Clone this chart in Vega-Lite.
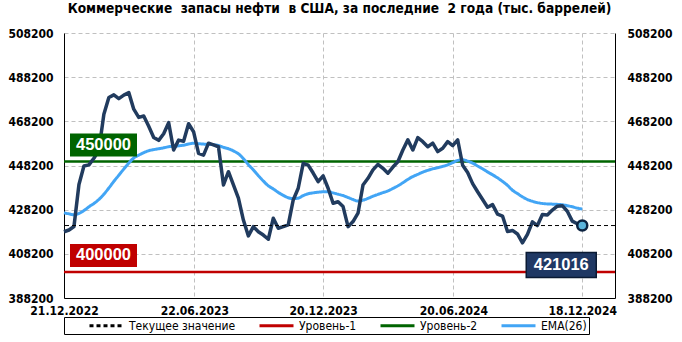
{
"$schema": "https://vega.github.io/schema/vega-lite/v6.json",
"width": 551, "height": 265,
"autosize": {"type": "none"},
"padding": {"left": 64, "top": 33, "right": 67, "bottom": 44},
"background": "white",
"title": {"text": "Коммерческие \u00a0запасы нефти \u00a0в США, за последние \u00a02 года (тыс. баррелей)", "fontSize": 13.6, "fontWeight": "bold", "font": "DejaVu Sans Condensed", "anchor": "middle", "offset": 11, "color": "black"},
"datasets": {
"w": [
{"d":"2022-12-21","v":418200,"ema":426800},{"d":"2022-12-28","v":419000,"ema":426300},{"d":"2023-01-04","v":420600,"ema":425900},{"d":"2023-01-11","v":439600,"ema":426500},{"d":"2023-01-18","v":448000,"ema":427800},{"d":"2023-01-25","v":448500,"ema":429500},{"d":"2023-02-01","v":451500,"ema":431000},{"d":"2023-02-08","v":455100,"ema":432800},{"d":"2023-02-15","v":471400,"ema":435200},{"d":"2023-02-22","v":479000,"ema":438000},
{"d":"2023-03-01","v":480200,"ema":441000},{"d":"2023-03-08","v":478500,"ema":443800},{"d":"2023-03-15","v":480100,"ema":446600},{"d":"2023-03-22","v":481200,"ema":449300},{"d":"2023-03-29","v":473700,"ema":451600},{"d":"2023-04-05","v":470000,"ema":452900},{"d":"2023-04-12","v":470600,"ema":454000},{"d":"2023-04-19","v":466000,"ema":454900},{"d":"2023-04-26","v":460900,"ema":455400},{"d":"2023-05-03","v":459600,"ema":455800},
{"d":"2023-05-10","v":462600,"ema":456200},{"d":"2023-05-17","v":467600,"ema":456700},{"d":"2023-05-24","v":455200,"ema":456900},{"d":"2023-05-31","v":459700,"ema":457100},{"d":"2023-06-07","v":459200,"ema":457400},{"d":"2023-06-14","v":467100,"ema":457900},{"d":"2023-06-21","v":463500,"ema":458300},{"d":"2023-06-28","v":453700,"ema":458100},{"d":"2023-07-05","v":452900,"ema":457900},{"d":"2023-07-12","v":458300,"ema":457800},
{"d":"2023-07-19","v":457500,"ema":457600},{"d":"2023-07-26","v":456700,"ema":457300},{"d":"2023-08-02","v":439400,"ema":456400},{"d":"2023-08-09","v":445400,"ema":455800},{"d":"2023-08-16","v":439400,"ema":454800},{"d":"2023-08-23","v":433400,"ema":453500},{"d":"2023-08-30","v":423500,"ema":451300},{"d":"2023-09-06","v":416300,"ema":448600},{"d":"2023-09-13","v":420500,"ema":446200},{"d":"2023-09-20","v":418200,"ema":443600},
{"d":"2023-09-27","v":416700,"ema":441200},{"d":"2023-10-04","v":414800,"ema":439000},{"d":"2023-10-11","v":424300,"ema":437600},{"d":"2023-10-18","v":419800,"ema":436000},{"d":"2023-10-25","v":420500,"ema":434700},{"d":"2023-11-01","v":421300,"ema":433600},{"d":"2023-11-08","v":432600,"ema":433200},{"d":"2023-11-15","v":437900,"ema":433400},{"d":"2023-11-22","v":449200,"ema":434600},{"d":"2023-11-29","v":448400,"ema":435400},
{"d":"2023-12-06","v":444800,"ema":435800},{"d":"2023-12-13","v":440900,"ema":436100},{"d":"2023-12-20","v":443500,"ema":436300},{"d":"2023-12-27","v":437900,"ema":436300},{"d":"2024-01-03","v":431100,"ema":435800},{"d":"2024-01-10","v":431800,"ema":435200},{"d":"2024-01-17","v":429600,"ema":434600},{"d":"2024-01-24","v":420500,"ema":433700},{"d":"2024-01-31","v":422800,"ema":432800},{"d":"2024-02-07","v":426600,"ema":432100},
{"d":"2024-02-14","v":439400,"ema":432500},{"d":"2024-02-21","v":442400,"ema":433300},{"d":"2024-02-28","v":446200,"ema":434300},{"d":"2024-03-06","v":448700,"ema":435100},{"d":"2024-03-13","v":446900,"ema":435900},{"d":"2024-03-20","v":444700,"ema":436700},{"d":"2024-03-27","v":447500,"ema":437800},{"d":"2024-04-03","v":449900,"ema":439000},{"d":"2024-04-10","v":455200,"ema":440400},{"d":"2024-04-17","v":459800,"ema":441900},
{"d":"2024-04-24","v":455200,"ema":443200},{"d":"2024-05-01","v":460800,"ema":444200},{"d":"2024-05-08","v":459000,"ema":445200},{"d":"2024-05-15","v":456700,"ema":446000},{"d":"2024-05-22","v":458300,"ema":446700},{"d":"2024-05-29","v":454500,"ema":447200},{"d":"2024-06-05","v":456000,"ema":447800},{"d":"2024-06-12","v":459000,"ema":448500},{"d":"2024-06-19","v":457200,"ema":449500},{"d":"2024-06-26","v":459800,"ema":450500},
{"d":"2024-07-03","v":448300,"ema":450800},{"d":"2024-07-10","v":445000,"ema":450200},{"d":"2024-07-17","v":440000,"ema":449300},{"d":"2024-07-24","v":436300,"ema":448000},{"d":"2024-07-31","v":432800,"ema":446700},{"d":"2024-08-07","v":429300,"ema":445300},{"d":"2024-08-14","v":430500,"ema":444000},{"d":"2024-08-21","v":426200,"ema":442600},{"d":"2024-08-28","v":425300,"ema":441000},{"d":"2024-09-04","v":418300,"ema":439200},
{"d":"2024-09-11","v":418800,"ema":437000},{"d":"2024-09-18","v":417200,"ema":435500},{"d":"2024-09-25","v":413200,"ema":434000},{"d":"2024-10-02","v":417000,"ema":432800},{"d":"2024-10-09","v":422700,"ema":432000},{"d":"2024-10-16","v":421000,"ema":431400},{"d":"2024-10-23","v":426000,"ema":431000},{"d":"2024-10-30","v":425800,"ema":430800},{"d":"2024-11-06","v":428000,"ema":430700},{"d":"2024-11-13","v":429800,"ema":430600},
{"d":"2024-11-20","v":430000,"ema":430400},{"d":"2024-11-27","v":427500,"ema":430000},{"d":"2024-12-04","v":423000,"ema":429500},{"d":"2024-12-11","v":421800,"ema":428900},{"d":"2024-12-18","v":421016,"ema":428500}
],
"lv": [{"series":"cur","value":421016},{"series":"l1","value":400000},{"series":"l2","value":450000}]
},
"layer": [
{
"data": {"name": "lv"},
"transform": [{"filter": "datum.series !== 'cur'"}],
"mark": {"type": "rule", "strokeWidth": 2.4},
"encoding": {
"y": {"field": "value", "type": "quantitative", "scale": {"domain": [388200, 508200], "nice": false, "zero": false},
"axis": {"orient": "right", "values": [388200,408200,428200,448200,468200,488200,508200], "format": "d", "grid": false, "ticks": false, "labelPadding": 12, "domain": true, "domainColor": "black", "domainWidth": 1, "title": null}},
"color": {"field": "series", "type": "nominal", "scale": {"domain": ["cur","l1","l2","ema"], "range": ["#000000","#c00000","#006400","#42a5f5"]},
"legend": {"title": null, "labelExpr": "datum.value === 'cur' ? 'Текущее значение' : datum.value === 'l1' ? 'Уровень-1' : datum.value === 'l2' ? 'Уровень-2' : 'EMA(26)\u00a0\u00a0\u00a0\u00a0'"}},
"strokeDash": {"field": "series", "type": "nominal", "scale": {"domain": ["cur","l1","l2","ema"], "range": [[4,3],[1,0],[1,0],[1,0]]},
"legend": {"title": null, "labelExpr": "datum.value === 'cur' ? 'Текущее значение' : datum.value === 'l1' ? 'Уровень-1' : datum.value === 'l2' ? 'Уровень-2' : 'EMA(26)\u00a0\u00a0\u00a0\u00a0'"}}
}
},
{
"data": {"name": "w"},
"transform": [{"fold": ["ema"], "as": ["series", "val"]}],
"mark": {"type": "line", "interpolate": "monotone", "strokeWidth": 3},
"encoding": {
"x": {"field": "d", "type": "temporal"},
"y": {"field": "val", "type": "quantitative", "axis": null},
"color": {"field": "series", "type": "nominal"},
"strokeDash": {"field": "series", "type": "nominal"}
}
},
{
"data": {"name": "w"},
"mark": {"type": "line", "color": "#213b5e", "strokeWidth": 3.5, "strokeJoin": "round"},
"encoding": {
"x": {"field": "d", "type": "temporal",
"scale": {"type": "utc", "domain": [{"year":2022,"month":12,"date":21,"utc":true},{"year":2025,"month":2,"date":2,"utc":true}]},
"axis": {"values": [{"year":2022,"month":12,"date":21,"utc":true},{"year":2023,"month":6,"date":22,"utc":true},{"year":2023,"month":12,"date":20,"utc":true},{"year":2024,"month":6,"date":20,"utc":true},{"year":2024,"month":12,"date":18,"utc":true}],
"format": "%d.%m.%Y", "labelFontWeight": "bold", "labelFontSize": 12, "labelColor": "black", "ticks": false, "labelPadding": 7, "grid": true, "gridColor": "#c0c0c0", "gridDash": [4,3], "domainColor": "black", "domainWidth": 1, "title": null, "labelFlush": false, "labelOverlap": false}},
"y": {"field": "v", "type": "quantitative",
"axis": {"orient": "left", "values": [388200,408200,428200,448200,468200,488200,508200], "format": "d", "grid": true, "gridColor": "#c0c0c0", "gridDash": [4,3], "ticks": false, "labelPadding": 11, "domain": true, "domainColor": "black", "domainWidth": 1, "title": null}}
}
},
{
"data": {"name": "lv"},
"transform": [{"filter": "datum.series === 'cur'"}],
"mark": {"type": "rule", "strokeWidth": 1},
"encoding": {
"y": {"field": "value", "type": "quantitative", "axis": null},
"color": {"field": "series", "type": "nominal"},
"strokeDash": {"field": "series", "type": "nominal"}
}
},
{
"data": {"name": "lv"},
"transform": [{"filter": "datum.series !== 'cur'"}],
"mark": {"type": "rect", "xOffset": 6, "x2Offset": 73, "yOffset": -28, "y2Offset": -5},
"encoding": {
"x": {"datum": {"year":2022,"month":12,"date":21,"utc":true}, "type": "temporal"},
"x2": {"datum": {"year":2022,"month":12,"date":21,"utc":true}},
"y": {"field": "value", "type": "quantitative", "axis": null},
"y2": {"field": "value"},
"fill": {"condition": {"test": "datum.series === 'l1'", "value": "#c00000"}, "value": "#006400"}
}
},
{
"data": {"name": "lv"},
"transform": [{"filter": "datum.series !== 'cur'"}],
"mark": {"type": "text", "align": "center", "baseline": "middle", "dx": 39.5, "dy": -16.5, "font": "Liberation Sans", "fontSize": 16.5, "fontWeight": "bold", "color": "white"},
"encoding": {
"x": {"datum": {"year":2022,"month":12,"date":21,"utc":true}, "type": "temporal"},
"y": {"field": "value", "type": "quantitative", "axis": null},
"text": {"field": "value", "type": "quantitative", "format": "d"}
}
},
{
"data": {"name": "lv"},
"transform": [{"filter": "datum.series === 'cur'"}],
"mark": {"type": "rect", "xOffset": -56, "x2Offset": 14, "yOffset": 27, "y2Offset": 52, "fill": "#1f3864", "stroke": "#0a1a33", "strokeWidth": 1.5},
"encoding": {
"x": {"datum": {"year":2024,"month":12,"date":18,"utc":true}, "type": "temporal"},
"x2": {"datum": {"year":2024,"month":12,"date":18,"utc":true}},
"y": {"field": "value", "type": "quantitative", "axis": null},
"y2": {"field": "value"}
}
},
{
"data": {"name": "lv"},
"transform": [{"filter": "datum.series === 'cur'"}],
"mark": {"type": "text", "align": "center", "baseline": "middle", "dx": -21, "dy": 39.5, "font": "Liberation Sans", "fontSize": 16.5, "fontWeight": "bold", "color": "white"},
"encoding": {
"x": {"datum": {"year":2024,"month":12,"date":18,"utc":true}, "type": "temporal"},
"y": {"field": "value", "type": "quantitative", "axis": null},
"text": {"field": "value", "type": "quantitative", "format": "d"}
}
},
{
"data": {"name": "lv"},
"transform": [{"filter": "datum.series === 'cur'"}],
"mark": {"type": "point", "filled": true, "shape": "circle", "size": 100, "fill": "#5ab4dc", "stroke": "#0b2240", "strokeWidth": 2.5, "opacity": 1},
"encoding": {
"x": {"datum": {"year":2024,"month":12,"date":18,"utc":true}, "type": "temporal"},
"y": {"field": "value", "type": "quantitative", "axis": null}
}
}
],
"resolve": {"axis": {"y": "independent"}},
"config": {
"view": {"stroke": null},
"font": "DejaVu Sans Condensed",
"axis": {"labelFont": "DejaVu Sans Condensed", "labelFontWeight": "bold", "labelFontSize": 12, "labelColor": "black"},
"legend": {"orient": "bottom", "offset": 1, "direction": "horizontal", "strokeColor": "black", "fillColor": "white", "padding": 2, "symbolType": "M3.4,0H10.2", "symbolSize": 100, "symbolStrokeWidth": 3, "labelOffset": 50, "columnPadding": 0, "labelFont": "DejaVu Sans Condensed", "labelFontSize": 12, "labelFontWeight": "normal", "labelColor": "black"}
}
}
